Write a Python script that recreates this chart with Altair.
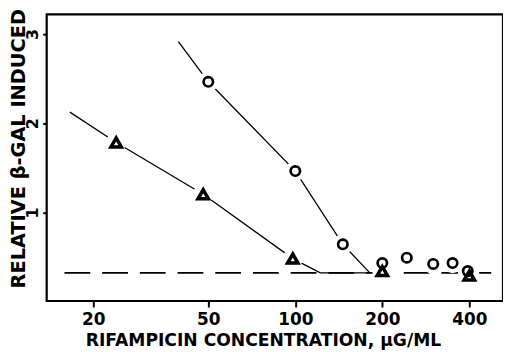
import altair as alt
import pandas as pd

# Data
tri_x = [24, 48, 98, 200, 400]
tri_y = [1.79, 1.21, 0.49, 0.35, 0.30]
cir_x = [50, 100, 146, 200, 243, 300, 350, 395]
cir_y = [2.47, 1.47, 0.65, 0.44, 0.50, 0.43, 0.44, 0.35]
tri_line_x = [16.6, 24, 48, 98, 122, 181]
tri_line_y = [2.13, 1.79, 1.21, 0.49, 0.33, 0.33]
cir_line_x = [39.4, 50, 100, 146, 181]
cir_line_y = [2.92, 2.47, 1.47, 0.65, 0.33]
base_x = [15.9, 476]
base_y = [0.33, 0.33]
x_ticks = [20, 50, 100, 200, 400]
y_ticks = [1, 2, 3]

tri = pd.DataFrame({"x": tri_x, "y": tri_y})
cir = pd.DataFrame({"x": cir_x, "y": cir_y})
tri_line = pd.DataFrame({"x": tri_line_x, "y": tri_line_y, "o": range(len(tri_line_x))})
cir_line = pd.DataFrame({"x": cir_line_x, "y": cir_line_y, "o": range(len(cir_line_x))})
base = pd.DataFrame({"x": base_x, "y": base_y, "o": range(len(base_x))})
ylab = pd.DataFrame({"y": y_ticks, "t": [str(v) for v in y_ticks]})

xs = alt.Scale(type="log", domain=[13.8, 523], nice=False)
ys = alt.Scale(domain=[0.015, 3.225], nice=False, zero=False)

X = alt.X("x:Q", scale=xs, axis=alt.Axis(
    values=x_ticks, title="RIFAMPICIN CONCENTRATION, μG/ML", format="d",
    grid=False, domain=False, tickSize=6, tickWidth=2, tickColor="black",
    labelFontSize=17, labelFontWeight="bold", labelColor="black", labelPadding=5,
    labelFont="DejaVu Sans", titleFont="DejaVu Sans", titleFontSize=17.3,
    titleFontWeight="bold", titleColor="black",
    titleX=218, titleY=39.5, titleAlign="center", titleBaseline="middle"))
Y = alt.Y("y:Q", scale=ys, axis=alt.Axis(
    values=y_ticks, title="RELATIVE β-GAL INDUCED",
    grid=False, domain=False, tickSize=4, tickWidth=2, tickColor="black",
    labels=False,
    titleFont="DejaVu Sans", titleFontSize=19.5,
    titleFontWeight="bold", titleColor="black",
    titleX=-28.5, titleY=135, titleAngle=-90, titleAlign="center", titleBaseline="middle"))

dash = alt.Chart(base).mark_line(color="black", strokeWidth=1.8, strokeDash=[26, 12]).encode(
    x=X, y=Y, order="o:Q")
tline = alt.Chart(tri_line).mark_line(color="black", strokeWidth=1.3).encode(x=X, y=Y, order="o:Q")
cline = alt.Chart(cir_line).mark_line(color="black", strokeWidth=1.3).encode(x=X, y=Y, order="o:Q")

halo_t = alt.Chart(tri).mark_circle(color="white", opacity=1, size=420).encode(x=X, y=Y)
halo_c = alt.Chart(cir).mark_circle(color="white", opacity=1, size=420).encode(x=X, y=Y)

tri_m = alt.Chart(tri).mark_point(shape="triangle-up", filled=True, fill="white", stroke="black",
                                  strokeWidth=3.5, size=110, opacity=1).encode(x=X, y=Y)
cir_m = alt.Chart(cir).mark_point(shape="circle", filled=False, stroke="black",
                                  strokeWidth=2.7, size=90, opacity=1).encode(x=X, y=Y)

ytext = alt.Chart(ylab).mark_text(
    angle=270, align="center", baseline="middle", font="DejaVu Sans",
    fontSize=16, fontWeight="bold", color="black").encode(
    x=alt.value(-14), y=alt.Y("y:Q", scale=ys), text="t:N")

chart = alt.layer(dash, tline, cline, halo_t, halo_c, tri_m, cir_m, ytext).properties(
    width=460, height=289,
    autosize=alt.AutoSizeParams(type="none"),
    padding={"left": 39, "top": 5, "right": 0, "bottom": 50},
    background="white",
).configure_view(stroke="black", strokeWidth=2.2)

chart.save("out.html", embed_options={"renderer": "svg", "actions": False})
